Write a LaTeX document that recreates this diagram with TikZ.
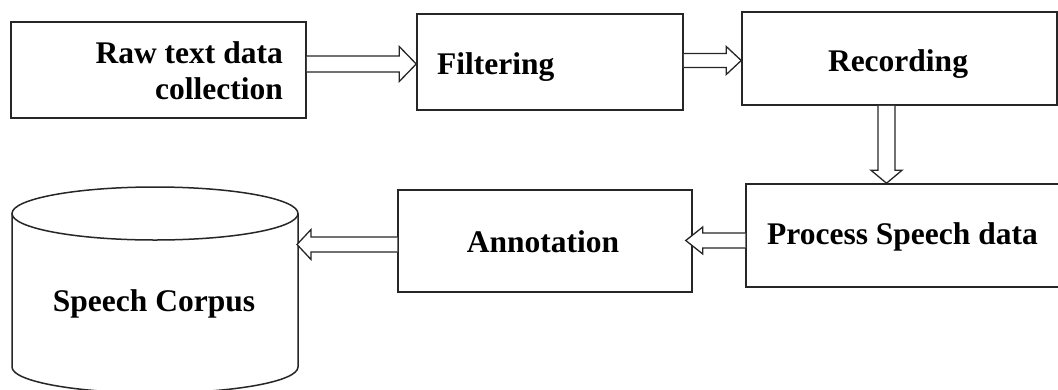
\documentclass[tikz,border=0pt]{standalone}
\usepackage{fontspec}
\setmainfont{Liberation Serif}
\usetikzlibrary{calc}
\definecolor{ink}{HTML}{262626}
\newcommand\arrR[5]{\draw[harrow] let \p1=(#1), \p2=(#2) in (\x1,\y2+#3pt) -- (\x2-#5pt,\y2+#3pt) -- (\x2-#5pt,\y2+#4pt) -- (\x2,\y2) -- (\x2-#5pt,\y2-#4pt) -- (\x2-#5pt,\y2-#3pt) -- (\x1,\y2-#3pt);}
\newcommand\arrL[5]{\draw[harrow] let \p1=(#1), \p2=(#2) in (\x1,\y2+#3pt) -- (\x2+#5pt,\y2+#3pt) -- (\x2+#5pt,\y2+#4pt) -- (\x2,\y2) -- (\x2+#5pt,\y2-#4pt) -- (\x2+#5pt,\y2-#3pt) -- (\x1,\y2-#3pt);}
\newcommand\arrD[5]{\draw[harrow] let \p1=(#1), \p2=(#2) in (\x2-#3pt,\y1) -- (\x2-#3pt,\y2+#5pt) -- (\x2-#4pt,\y2+#5pt) -- (\x2,\y2) -- (\x2+#4pt,\y2+#5pt) -- (\x2+#3pt,\y2+#5pt) -- (\x2+#3pt,\y1);}
\begin{document}
\begin{tikzpicture}[x=1pt,y=-1pt,
  box/.style={draw=ink, line width=1.5pt, fill=white, inner sep=0pt},
  lbl/.style={inner sep=0pt, text=black, font=\fontsize{31.5}{36}\selectfont\bfseries},
  harrow/.style={draw=ink, line width=1.3pt, fill=white, line join=miter},
  cyl/.style={draw=ink, line width=1.5pt}]
\useasboundingbox (0,0) rectangle (1058,389);

% boxes
\node[box, minimum width=295, minimum height=96] (raw) at (158.5,70) {};
\node[box, minimum width=266, minimum height=96] (fil) at (550,62) {};
\node[box, minimum width=315, minimum height=93] (rec) at (899.5,58.5) {};
\node[box, minimum width=324, minimum height=103] (proc) at (908,235.5) {};
\node[box, minimum width=294, minimum height=102] (ann) at (545,241) {};

% cylinder
\draw[cyl, fill=white] (12,213.5) -- (12,367) arc[start angle=180, end angle=0, x radius=143, y radius=26] -- (298,213.5);
\draw[cyl] (155,213.5) ellipse [x radius=143, y radius=26.5];
\coordinate (corpusR) at (297,244.5);

% labels
\node[lbl, anchor=base east] (rawa) at (283,63) {Raw text data};
\node[lbl, anchor=base east] (rawb) at (283,99) {collection};
\node[lbl, anchor=base west] (filt) at (437,74) {Filtering};
\node[lbl, anchor=base] (rect) at (898,71) {Recording};
\node[lbl, anchor=base west] (proct) at (767,244) {Process Speech data};
\node[lbl, anchor=base] (annt) at (543,252) {Annotation};
\node[lbl, anchor=base] (corpt) at (154,311) {Speech Corpus};

% arrow tips
\coordinate (t1) at ($(fil.west)+(0,2)$);
\coordinate (t2) at ($(rec.west)+(0,2)$);
\coordinate (t3) at ($(proc.north)+(-21.5,0)$);
\coordinate (t4) at ($(ann.east)+(-7,-0.5)$);

% hollow arrows
\arrR{raw.east}{t1}{8}{17.5}{17}
\arrR{fil.east}{t2}{7}{14}{15}
\arrD{rec.south}{t3}{8.5}{15.5}{13}
\arrL{proc.west}{t4}{7.5}{13.5}{17}
\arrL{ann.west}{corpusR}{7.5}{15}{14}
\end{tikzpicture}
\end{document}
